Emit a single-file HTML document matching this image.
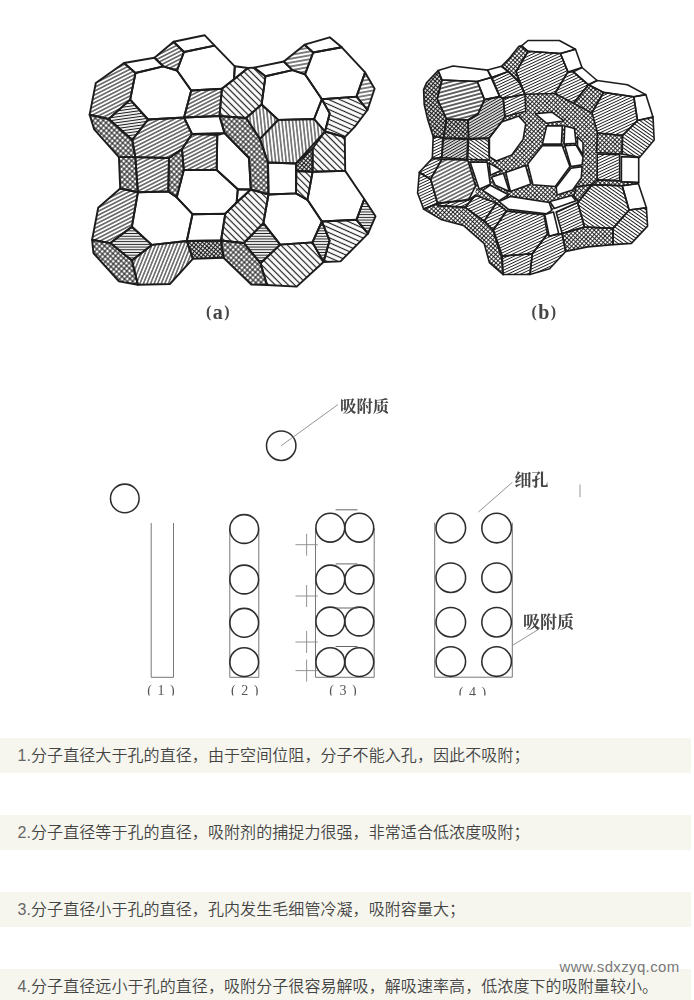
<!DOCTYPE html><html lang="zh"><head><meta charset="utf-8"><title>page</title><style>
html,body{margin:0;padding:0;background:#fff}
body{width:694px;height:1000px;position:relative;overflow:hidden;font-family:"Liberation Sans","Noto Sans CJK SC",sans-serif}
.row{position:absolute;left:0;width:691px;height:35px;background:#f6f6ee;color:#444;font-weight:350;font-size:16px;letter-spacing:0.08px;line-height:35px;padding-left:17.5px;box-sizing:border-box;white-space:nowrap}
.n{color:#666}
.wm{position:absolute;left:559.5px;top:957px;font-size:15px;letter-spacing:0.36px;color:#777;line-height:20px;white-space:nowrap}
</style></head><body>
<svg width="694" height="720" viewBox="0 0 694 720" style="position:absolute;left:0;top:0">
<defs><pattern id="pa" width="3.4" height="3.4" patternUnits="userSpaceOnUse" patternTransform="rotate(-27)"><rect width="3.4" height="3.4" fill="#fff"/><line x1="0" y1="1.7" x2="3.4" y2="1.7" stroke="#1c1c1c" stroke-width="1.1"/></pattern><pattern id="pa0" width="2.9" height="2.9" patternUnits="userSpaceOnUse" patternTransform="rotate(-8)"><rect width="2.9" height="2.9" fill="#fff"/><line x1="0" y1="1.45" x2="2.9" y2="1.45" stroke="#1c1c1c" stroke-width="1.1"/></pattern><pattern id="pa3" width="3.3" height="3.3" patternUnits="userSpaceOnUse" patternTransform="rotate(-68)"><rect width="3.3" height="3.3" fill="#fff"/><line x1="0" y1="1.65" x2="3.3" y2="1.65" stroke="#1c1c1c" stroke-width="1.05"/></pattern><pattern id="pb" width="4.6" height="4.6" patternUnits="userSpaceOnUse" patternTransform="rotate(45)"><rect width="4.6" height="4.6" fill="#fff"/><line x1="0" y1="2.3" x2="4.6" y2="2.3" stroke="#1c1c1c" stroke-width="1.2"/></pattern><pattern id="pb2" width="2.9" height="2.9" patternUnits="userSpaceOnUse" patternTransform="rotate(35)"><rect width="2.9" height="2.9" fill="#fff"/><line x1="0" y1="1.45" x2="2.9" y2="1.45" stroke="#1c1c1c" stroke-width="0.98"/></pattern><pattern id="pa2" width="2.7" height="2.7" patternUnits="userSpaceOnUse" patternTransform="rotate(-25)"><rect width="2.7" height="2.7" fill="#fff"/><line x1="0" y1="1.35" x2="2.7" y2="1.35" stroke="#1c1c1c" stroke-width="0.95"/></pattern><pattern id="pa4" width="3.8" height="3.8" patternUnits="userSpaceOnUse" patternTransform="rotate(-15)"><rect width="3.8" height="3.8" fill="#fff"/><line x1="0" y1="1.9" x2="3.8" y2="1.9" stroke="#1c1c1c" stroke-width="1.35"/></pattern><pattern id="pbg" width="4.5" height="4.5" patternUnits="userSpaceOnUse" patternTransform="rotate(24)"><rect width="4.5" height="4.5" fill="#fff"/><line x1="0" y1="2.25" x2="4.5" y2="2.25" stroke="#1c1c1c" stroke-width="1.15"/></pattern><pattern id="pa5" width="3.8" height="3.8" patternUnits="userSpaceOnUse" patternTransform="rotate(-10)"><rect width="3.8" height="3.8" fill="#fff"/><line x1="0" y1="1.9" x2="3.8" y2="1.9" stroke="#1c1c1c" stroke-width="1.1"/></pattern><pattern id="px2" width="3.0" height="3.0" patternUnits="userSpaceOnUse" patternTransform="rotate(42)"><rect width="3.0" height="3.0" fill="#fff"/><line x1="0" y1="1.5" x2="3.0" y2="1.5" stroke="#1c1c1c" stroke-width="0.92"/><line x1="1.5" y1="0" x2="1.5" y2="3.0" stroke="#1c1c1c" stroke-width="0.92"/></pattern><pattern id="pv" width="3.5" height="3.5" patternUnits="userSpaceOnUse" patternTransform="rotate(84)"><rect width="3.5" height="3.5" fill="#fff"/><line x1="0" y1="1.75" x2="3.5" y2="1.75" stroke="#1c1c1c" stroke-width="1.05"/></pattern><pattern id="ph" width="2.7" height="2.7" patternUnits="userSpaceOnUse" patternTransform="rotate(0)"><rect width="2.7" height="2.7" fill="#fff"/><line x1="0" y1="1.35" x2="2.7" y2="1.35" stroke="#1c1c1c" stroke-width="1.05"/></pattern><pattern id="pd" width="2.5" height="2.5" patternUnits="userSpaceOnUse" patternTransform="rotate(-30)"><rect width="2.5" height="2.5" fill="#fff"/><line x1="0" y1="1.25" x2="2.5" y2="1.25" stroke="#1c1c1c" stroke-width="1.15"/></pattern><pattern id="px" width="3.7" height="3.7" patternUnits="userSpaceOnUse" patternTransform="rotate(42)"><rect width="3.7" height="3.7" fill="#fff"/><line x1="0" y1="1.85" x2="3.7" y2="1.85" stroke="#1c1c1c" stroke-width="1.05"/><line x1="1.85" y1="0" x2="1.85" y2="3.7" stroke="#1c1c1c" stroke-width="1.05"/></pattern><pattern id="pxd" width="3.0" height="3.0" patternUnits="userSpaceOnUse" patternTransform="rotate(40)"><rect width="3.0" height="3.0" fill="#fff"/><line x1="0" y1="1.5" x2="3.0" y2="1.5" stroke="#1c1c1c" stroke-width="1.15"/><line x1="1.5" y1="0" x2="1.5" y2="3.0" stroke="#1c1c1c" stroke-width="1.15"/></pattern><filter id="bl" x="-5%" y="-5%" width="110%" height="110%"><feGaussianBlur stdDeviation="0.65"/></filter><filter id="bl2" x="-5%" y="-5%" width="110%" height="110%"><feGaussianBlur stdDeviation="0.45"/></filter></defs>
<g filter="url(#bl)">
<polygon points="124.0,63.0 154.5,57.7 163.2,66.3 135.5,73.0" fill="#fff"/>
<polygon points="173.5,41.8 204.6,35.2 214.6,45.6 184.0,52.0" fill="#fff"/>
<polygon points="173.5,41.8 184.0,52.0 177.0,70.5 163.2,66.3 154.5,57.7" fill="url(#pa)"/>
<polygon points="184.0,52.0 214.6,45.6 234.8,66.3 234.0,79.3 221.9,88.8 191.2,90.5 177.0,70.5" fill="#fff"/>
<polygon points="135.5,73.0 163.2,66.3 177.0,70.5 191.2,90.5 184.0,117.5 148.0,119.5 130.2,99.6" fill="#fff"/>
<polygon points="124.0,63.0 135.5,73.0 130.2,99.6 108.7,119.0 89.6,114.6 95.8,83.0" fill="url(#pa)"/>
<polygon points="130.2,99.6 148.0,119.5 132.3,140.0 108.7,119.0" fill="url(#pa0)"/>
<polygon points="191.2,90.5 221.9,88.8 219.5,116.0 184.0,117.5" fill="url(#pa)"/>
<polygon points="184.0,117.5 219.5,116.0 224.5,133.0 192.0,134.0" fill="#fff"/>
<polygon points="148.0,119.5 184.0,117.5 192.0,134.0 182.0,149.0 169.0,158.0 135.3,157.1 132.3,140.0" fill="url(#pa)"/>
<polygon points="192.0,134.0 217.3,135.0 216.7,170.0 183.8,170.0 182.0,149.0" fill="url(#pa)"/>
<polygon points="169.0,158.0 182.0,149.0 183.8,170.0 176.7,197.3 168.3,191.5" fill="url(#px)"/>
<polygon points="89.6,114.6 108.7,119.0 132.3,140.0 135.3,157.1 118.9,157.1 94.2,129.4" fill="url(#px)"/>
<polygon points="118.9,157.1 135.3,157.1 137.9,192.3 120.2,188.5" fill="url(#px)"/>
<polygon points="135.3,157.1 169.0,158.0 168.3,191.5 137.9,192.3" fill="url(#pa)"/>
<polygon points="120.2,188.5 137.9,192.3 131.9,226.7 110.3,243.1 92.1,239.8 98.2,207.7" fill="url(#pa)"/>
<polygon points="137.9,192.3 168.3,191.5 176.7,197.3 192.5,214.2 186.8,241.0 151.8,244.9 131.9,226.7" fill="#fff"/>
<polygon points="183.8,170.0 216.7,170.0 237.8,189.3 236.6,202.5 225.3,213.7 192.5,214.2 176.7,197.3" fill="#fff"/>
<polygon points="131.9,226.7 151.8,244.9 131.9,260.5 110.3,243.1" fill="url(#ph)"/>
<polygon points="92.1,239.8 110.3,243.1 131.9,260.5 137.9,284.8 118.9,281.4 93.4,253.0" fill="url(#px)"/>
<polygon points="151.8,244.9 186.8,241.0 192.8,258.8 169.9,284.0 137.9,284.8 131.9,260.5" fill="url(#pa3)"/>
<polygon points="192.5,214.2 225.3,213.7 221.0,240.5 186.8,241.0" fill="#fff"/>
<polygon points="186.8,241.0 221.0,240.5 223.6,257.7 192.8,258.8" fill="url(#pxd)"/>
<polygon points="217.3,135.0 224.5,133.0 249.0,158.0 250.8,189.5 237.8,189.3 216.7,170.0" fill="#fff"/>
<polygon points="237.8,189.3 250.8,189.5 236.6,202.5" fill="#fff"/>
<polygon points="219.5,116.0 246.1,118.0 259.9,138.9 268.0,162.5 268.5,194.5 250.8,189.5 249.0,158.0 224.5,133.0" fill="url(#px)"/>
<polygon points="221.9,88.8 234.0,79.3 248.0,68.0 254.0,67.6 265.5,76.2 261.6,104.5 246.1,118.0 219.5,116.0" fill="url(#pb)"/>
<polygon points="234.8,66.3 248.0,68.0 234.0,79.3" fill="#fff"/>
<polygon points="261.6,104.5 278.3,119.9 259.9,138.9 246.1,118.0" fill="url(#pv)"/>
<polygon points="278.3,119.9 314.1,119.0 325.0,131.5 296.0,163.5 268.0,162.5 259.9,138.9" fill="url(#pv)"/>
<polygon points="268.0,162.5 296.0,163.5 296.0,193.4 268.5,194.5" fill="#fff"/>
<polygon points="296.0,163.5 312.6,148.5 312.6,171.8 296.5,171.0" fill="url(#pxd)"/>
<polygon points="296.5,171.0 312.6,171.8 307.4,199.8 296.0,193.4" fill="url(#pb)"/>
<polygon points="254.0,67.6 283.8,61.5 292.5,70.1 265.5,76.2" fill="#fff"/>
<polygon points="283.8,61.5 304.6,44.7 313.2,52.5 305.0,74.3 292.5,70.1" fill="url(#pa5)"/>
<polygon points="304.6,44.7 329.7,37.3 341.8,47.3 313.2,52.5" fill="#fff"/>
<polygon points="313.2,52.5 341.8,47.3 365.1,72.4 356.5,96.6 321.9,99.2 305.0,74.3" fill="#fff"/>
<polygon points="365.1,72.4 374.6,88.8 367.5,110.0 356.5,96.6" fill="url(#pa5)"/>
<polygon points="265.5,76.2 292.5,70.1 305.0,74.3 321.9,99.2 314.1,119.0 278.3,119.9 261.6,104.5" fill="#fff"/>
<polygon points="321.9,99.2 329.7,113.4 325.0,131.5 314.1,119.0" fill="#fff"/>
<polygon points="321.9,99.2 356.5,96.6 367.5,110.0 354.7,126.8 344.8,137.2 325.0,131.5 329.7,113.4" fill="url(#pbg)"/>
<polygon points="325.0,131.5 344.8,137.2 345.2,170.9 312.6,171.8 312.6,148.5" fill="url(#pb)"/>
<polygon points="312.6,171.8 345.2,170.9 364.2,199.0 356.5,219.8 321.9,221.5 307.4,199.8" fill="#fff"/>
<polygon points="364.2,199.0 375.5,216.3 368.0,233.6 356.5,219.8" fill="url(#ph)"/>
<polygon points="321.9,221.5 356.5,219.8 368.0,233.6 340.5,261.4 323.5,262.0 329.6,240.6" fill="url(#pbg)"/>
<polygon points="321.9,221.5 329.6,240.6 323.5,262.0 312.4,242.4" fill="url(#ph)"/>
<polygon points="268.5,194.5 296.0,193.4 307.4,199.8 321.9,221.5 312.4,242.4 280.2,244.6 263.4,223.2" fill="#fff"/>
<polygon points="250.8,189.5 268.5,194.5 263.4,223.2 243.8,243.0 221.0,240.5 225.3,213.7 236.6,202.5" fill="url(#pb)"/>
<polygon points="263.4,223.2 280.2,244.6 260.5,263.2 243.8,243.0" fill="url(#ph)"/>
<polygon points="221.0,240.5 243.8,243.0 260.5,263.2 267.0,285.0 251.3,284.5 223.6,257.7" fill="url(#px)"/>
<polygon points="280.2,244.6 312.4,242.4 323.5,262.0 296.7,286.6 267.0,285.0 260.5,263.2" fill="url(#pb)"/>
<polygon points="124.0,63.0 154.5,57.7 163.2,66.3 135.5,73.0" fill="none" stroke="#1c1c1c" stroke-width="1.9" stroke-linejoin="round"/>
<polygon points="173.5,41.8 204.6,35.2 214.6,45.6 184.0,52.0" fill="none" stroke="#1c1c1c" stroke-width="1.9" stroke-linejoin="round"/>
<polygon points="173.5,41.8 184.0,52.0 177.0,70.5 163.2,66.3 154.5,57.7" fill="none" stroke="#1c1c1c" stroke-width="1.9" stroke-linejoin="round"/>
<polygon points="184.0,52.0 214.6,45.6 234.8,66.3 234.0,79.3 221.9,88.8 191.2,90.5 177.0,70.5" fill="none" stroke="#1c1c1c" stroke-width="1.9" stroke-linejoin="round"/>
<polygon points="135.5,73.0 163.2,66.3 177.0,70.5 191.2,90.5 184.0,117.5 148.0,119.5 130.2,99.6" fill="none" stroke="#1c1c1c" stroke-width="1.9" stroke-linejoin="round"/>
<polygon points="124.0,63.0 135.5,73.0 130.2,99.6 108.7,119.0 89.6,114.6 95.8,83.0" fill="none" stroke="#1c1c1c" stroke-width="1.9" stroke-linejoin="round"/>
<polygon points="130.2,99.6 148.0,119.5 132.3,140.0 108.7,119.0" fill="none" stroke="#1c1c1c" stroke-width="1.9" stroke-linejoin="round"/>
<polygon points="191.2,90.5 221.9,88.8 219.5,116.0 184.0,117.5" fill="none" stroke="#1c1c1c" stroke-width="1.9" stroke-linejoin="round"/>
<polygon points="184.0,117.5 219.5,116.0 224.5,133.0 192.0,134.0" fill="none" stroke="#1c1c1c" stroke-width="1.9" stroke-linejoin="round"/>
<polygon points="148.0,119.5 184.0,117.5 192.0,134.0 182.0,149.0 169.0,158.0 135.3,157.1 132.3,140.0" fill="none" stroke="#1c1c1c" stroke-width="1.9" stroke-linejoin="round"/>
<polygon points="192.0,134.0 217.3,135.0 216.7,170.0 183.8,170.0 182.0,149.0" fill="none" stroke="#1c1c1c" stroke-width="1.9" stroke-linejoin="round"/>
<polygon points="169.0,158.0 182.0,149.0 183.8,170.0 176.7,197.3 168.3,191.5" fill="none" stroke="#1c1c1c" stroke-width="1.9" stroke-linejoin="round"/>
<polygon points="89.6,114.6 108.7,119.0 132.3,140.0 135.3,157.1 118.9,157.1 94.2,129.4" fill="none" stroke="#1c1c1c" stroke-width="1.9" stroke-linejoin="round"/>
<polygon points="118.9,157.1 135.3,157.1 137.9,192.3 120.2,188.5" fill="none" stroke="#1c1c1c" stroke-width="1.9" stroke-linejoin="round"/>
<polygon points="135.3,157.1 169.0,158.0 168.3,191.5 137.9,192.3" fill="none" stroke="#1c1c1c" stroke-width="1.9" stroke-linejoin="round"/>
<polygon points="120.2,188.5 137.9,192.3 131.9,226.7 110.3,243.1 92.1,239.8 98.2,207.7" fill="none" stroke="#1c1c1c" stroke-width="1.9" stroke-linejoin="round"/>
<polygon points="137.9,192.3 168.3,191.5 176.7,197.3 192.5,214.2 186.8,241.0 151.8,244.9 131.9,226.7" fill="none" stroke="#1c1c1c" stroke-width="1.9" stroke-linejoin="round"/>
<polygon points="183.8,170.0 216.7,170.0 237.8,189.3 236.6,202.5 225.3,213.7 192.5,214.2 176.7,197.3" fill="none" stroke="#1c1c1c" stroke-width="1.9" stroke-linejoin="round"/>
<polygon points="131.9,226.7 151.8,244.9 131.9,260.5 110.3,243.1" fill="none" stroke="#1c1c1c" stroke-width="1.9" stroke-linejoin="round"/>
<polygon points="92.1,239.8 110.3,243.1 131.9,260.5 137.9,284.8 118.9,281.4 93.4,253.0" fill="none" stroke="#1c1c1c" stroke-width="1.9" stroke-linejoin="round"/>
<polygon points="151.8,244.9 186.8,241.0 192.8,258.8 169.9,284.0 137.9,284.8 131.9,260.5" fill="none" stroke="#1c1c1c" stroke-width="1.9" stroke-linejoin="round"/>
<polygon points="192.5,214.2 225.3,213.7 221.0,240.5 186.8,241.0" fill="none" stroke="#1c1c1c" stroke-width="1.9" stroke-linejoin="round"/>
<polygon points="186.8,241.0 221.0,240.5 223.6,257.7 192.8,258.8" fill="none" stroke="#1c1c1c" stroke-width="1.9" stroke-linejoin="round"/>
<polygon points="217.3,135.0 224.5,133.0 249.0,158.0 250.8,189.5 237.8,189.3 216.7,170.0" fill="none" stroke="#1c1c1c" stroke-width="1.9" stroke-linejoin="round"/>
<polygon points="237.8,189.3 250.8,189.5 236.6,202.5" fill="none" stroke="#1c1c1c" stroke-width="1.9" stroke-linejoin="round"/>
<polygon points="219.5,116.0 246.1,118.0 259.9,138.9 268.0,162.5 268.5,194.5 250.8,189.5 249.0,158.0 224.5,133.0" fill="none" stroke="#1c1c1c" stroke-width="1.9" stroke-linejoin="round"/>
<polygon points="221.9,88.8 234.0,79.3 248.0,68.0 254.0,67.6 265.5,76.2 261.6,104.5 246.1,118.0 219.5,116.0" fill="none" stroke="#1c1c1c" stroke-width="1.9" stroke-linejoin="round"/>
<polygon points="234.8,66.3 248.0,68.0 234.0,79.3" fill="none" stroke="#1c1c1c" stroke-width="1.9" stroke-linejoin="round"/>
<polygon points="261.6,104.5 278.3,119.9 259.9,138.9 246.1,118.0" fill="none" stroke="#1c1c1c" stroke-width="1.9" stroke-linejoin="round"/>
<polygon points="278.3,119.9 314.1,119.0 325.0,131.5 296.0,163.5 268.0,162.5 259.9,138.9" fill="none" stroke="#1c1c1c" stroke-width="1.9" stroke-linejoin="round"/>
<polygon points="268.0,162.5 296.0,163.5 296.0,193.4 268.5,194.5" fill="none" stroke="#1c1c1c" stroke-width="1.9" stroke-linejoin="round"/>
<polygon points="296.0,163.5 312.6,148.5 312.6,171.8 296.5,171.0" fill="none" stroke="#1c1c1c" stroke-width="1.9" stroke-linejoin="round"/>
<polygon points="296.5,171.0 312.6,171.8 307.4,199.8 296.0,193.4" fill="none" stroke="#1c1c1c" stroke-width="1.9" stroke-linejoin="round"/>
<polygon points="254.0,67.6 283.8,61.5 292.5,70.1 265.5,76.2" fill="none" stroke="#1c1c1c" stroke-width="1.9" stroke-linejoin="round"/>
<polygon points="283.8,61.5 304.6,44.7 313.2,52.5 305.0,74.3 292.5,70.1" fill="none" stroke="#1c1c1c" stroke-width="1.9" stroke-linejoin="round"/>
<polygon points="304.6,44.7 329.7,37.3 341.8,47.3 313.2,52.5" fill="none" stroke="#1c1c1c" stroke-width="1.9" stroke-linejoin="round"/>
<polygon points="313.2,52.5 341.8,47.3 365.1,72.4 356.5,96.6 321.9,99.2 305.0,74.3" fill="none" stroke="#1c1c1c" stroke-width="1.9" stroke-linejoin="round"/>
<polygon points="365.1,72.4 374.6,88.8 367.5,110.0 356.5,96.6" fill="none" stroke="#1c1c1c" stroke-width="1.9" stroke-linejoin="round"/>
<polygon points="265.5,76.2 292.5,70.1 305.0,74.3 321.9,99.2 314.1,119.0 278.3,119.9 261.6,104.5" fill="none" stroke="#1c1c1c" stroke-width="1.9" stroke-linejoin="round"/>
<polygon points="321.9,99.2 329.7,113.4 325.0,131.5 314.1,119.0" fill="none" stroke="#1c1c1c" stroke-width="1.9" stroke-linejoin="round"/>
<polygon points="321.9,99.2 356.5,96.6 367.5,110.0 354.7,126.8 344.8,137.2 325.0,131.5 329.7,113.4" fill="none" stroke="#1c1c1c" stroke-width="1.9" stroke-linejoin="round"/>
<polygon points="325.0,131.5 344.8,137.2 345.2,170.9 312.6,171.8 312.6,148.5" fill="none" stroke="#1c1c1c" stroke-width="1.9" stroke-linejoin="round"/>
<polygon points="312.6,171.8 345.2,170.9 364.2,199.0 356.5,219.8 321.9,221.5 307.4,199.8" fill="none" stroke="#1c1c1c" stroke-width="1.9" stroke-linejoin="round"/>
<polygon points="364.2,199.0 375.5,216.3 368.0,233.6 356.5,219.8" fill="none" stroke="#1c1c1c" stroke-width="1.9" stroke-linejoin="round"/>
<polygon points="321.9,221.5 356.5,219.8 368.0,233.6 340.5,261.4 323.5,262.0 329.6,240.6" fill="none" stroke="#1c1c1c" stroke-width="1.9" stroke-linejoin="round"/>
<polygon points="321.9,221.5 329.6,240.6 323.5,262.0 312.4,242.4" fill="none" stroke="#1c1c1c" stroke-width="1.9" stroke-linejoin="round"/>
<polygon points="268.5,194.5 296.0,193.4 307.4,199.8 321.9,221.5 312.4,242.4 280.2,244.6 263.4,223.2" fill="none" stroke="#1c1c1c" stroke-width="1.9" stroke-linejoin="round"/>
<polygon points="250.8,189.5 268.5,194.5 263.4,223.2 243.8,243.0 221.0,240.5 225.3,213.7 236.6,202.5" fill="none" stroke="#1c1c1c" stroke-width="1.9" stroke-linejoin="round"/>
<polygon points="263.4,223.2 280.2,244.6 260.5,263.2 243.8,243.0" fill="none" stroke="#1c1c1c" stroke-width="1.9" stroke-linejoin="round"/>
<polygon points="221.0,240.5 243.8,243.0 260.5,263.2 267.0,285.0 251.3,284.5 223.6,257.7" fill="none" stroke="#1c1c1c" stroke-width="1.9" stroke-linejoin="round"/>
<polygon points="280.2,244.6 312.4,242.4 323.5,262.0 296.7,286.6 267.0,285.0 260.5,263.2" fill="none" stroke="#1c1c1c" stroke-width="1.9" stroke-linejoin="round"/>
<polygon points="504.9,116.5 525.7,111.3 525.0,94.3 555.0,93.5 573.4,103.2 591.7,112.9 597.5,133.0 596.5,152.5 597.2,180.0 592.2,184.6 576.1,186.9 573.8,196.1 554.0,209.0 546.0,214.0 506.0,211.0 496.3,203.0 475.5,195.2 475.5,186.1 467.7,160.1 489.4,160.1 489.4,137.7 501.5,122.1" fill="url(#px2)"/>
<polygon points="423.6,89.6 426.5,82.7 438.1,70.6 442.0,80.0 437.2,99.0 446.5,119.0 443.5,137.7 433.2,136.8 427.7,119.6 424.2,104.6" fill="url(#pxd)"/>
<polygon points="438.1,70.6 453.0,66.0 487.6,70.1 491.1,77.6 477.3,81.5 442.0,80.0" fill="#fff"/>
<polygon points="487.6,70.1 501.5,66.3 508.4,71.5 492.0,77.6" fill="#fff"/>
<polygon points="477.3,81.5 491.1,77.6 499.7,96.6 484.5,99.6" fill="#fff"/>
<polygon points="442.0,80.0 477.3,81.5 484.5,99.6 478.0,113.8 468.0,120.0 446.5,119.0 437.2,99.0" fill="url(#pa4)"/>
<polygon points="446.5,119.0 468.0,120.0 468.6,138.5 443.5,137.7" fill="url(#pxd)"/>
<polygon points="492.0,77.6 508.4,71.5 518.8,81.9 525.0,94.3 503.2,98.3 499.7,96.6" fill="url(#pa2)"/>
<polygon points="503.2,98.3 525.0,94.3 525.7,111.3 504.9,116.5" fill="url(#pa2)"/>
<polygon points="484.5,99.6 499.7,96.6 503.2,98.3 504.9,116.5 501.5,122.1 489.4,137.7 468.6,138.5 468.0,120.0 478.0,113.8" fill="url(#pd)"/>
<polygon points="501.5,66.3 508.4,59.4 518.8,46.4 521.5,45.9 528.0,51.3 516.1,71.9 518.8,81.9 508.4,71.5" fill="url(#px2)"/>
<polygon points="521.5,45.9 528.0,40.5 559.3,40.5 575.5,49.2 560.4,53.5 528.0,51.3" fill="#fff"/>
<polygon points="560.4,53.5 575.5,49.2 582.0,67.5 567.9,71.9" fill="#fff"/>
<polygon points="528.0,51.3 560.4,53.5 567.9,71.9 555.0,93.5 525.0,94.3 516.1,71.9" fill="url(#pa2)"/>
<polygon points="573.4,71.9 582.0,67.5 597.1,80.5 588.5,84.8" fill="#fff"/>
<polygon points="567.9,71.9 573.4,71.9 588.5,84.8 573.4,103.2 555.0,93.5" fill="url(#pa2)"/>
<polygon points="588.5,84.8 603.6,92.4 591.7,112.9 573.4,103.2" fill="url(#px2)"/>
<polygon points="597.1,80.5 627.4,84.8 645.8,94.6 633.9,96.7 603.6,92.4 588.5,84.8" fill="#fff"/>
<polygon points="633.9,96.7 645.8,94.6 653.0,117.0 637.5,120.5" fill="#fff"/>
<polygon points="603.5,92.5 633.7,96.8 637.5,120.5 622.5,135.5 597.5,133.0 592.0,112.7" fill="url(#pa2)"/>
<polygon points="637.5,120.5 653.0,117.0 654.2,140.1 639.5,157.4 622.3,154.0 622.5,135.5" fill="url(#pb2)"/>
<polygon points="597.5,133.0 622.5,135.5 621.8,154.0 596.5,152.5" fill="url(#px2)"/>
<polygon points="597.2,154.0 619.7,154.8 619.7,180.8 597.2,179.9" fill="url(#pa2)"/>
<polygon points="621.4,156.6 638.7,157.4 638.7,182.5 621.4,181.7" fill="#fff"/>
<polygon points="597.2,179.9 619.7,180.8 621.4,181.7 638.7,182.5 638.3,183.5 622.2,185.8 592.2,184.6" fill="url(#px2)"/>
<polygon points="592.2,184.6 622.2,185.8 629.1,210.0 613.0,228.4 584.5,227.0 577.7,202.5" fill="url(#pb2)"/>
<polygon points="622.2,185.8 638.3,183.5 646.4,207.7 629.1,210.0" fill="#fff"/>
<polygon points="629.1,210.0 646.4,207.7 647.6,226.1 631.4,243.4 613.0,244.6 613.0,228.4" fill="url(#pb2)"/>
<polygon points="562.1,233.5 584.5,227.0 613.0,228.4 613.0,244.6 587.6,246.9 565.7,251.5" fill="url(#px2)"/>
<polygon points="576.1,186.9 592.2,184.6 578.4,201.9 573.8,196.1" fill="url(#px2)"/>
<polygon points="544.8,214.6 553.5,212.0 558.7,233.6 549.2,236.2" fill="#fff"/>
<polygon points="556.1,212.0 577.7,202.5 584.5,227.0 562.1,233.5" fill="url(#pa2)"/>
<polygon points="505.9,211.1 544.0,214.6 547.4,234.0 532.3,253.8 502.3,256.1 493.5,230.0" fill="url(#pa2)"/>
<polygon points="547.4,234.0 549.2,236.2 562.1,233.5 565.7,251.5 549.6,268.8 530.0,274.5 532.3,253.8" fill="url(#pa2)"/>
<polygon points="502.3,256.1 532.3,253.8 530.0,274.5 503.0,274.5" fill="url(#pa2)"/>
<polygon points="441.8,159.3 467.7,160.1 475.5,186.1 468.6,199.9 437.5,203.4 430.6,179.2" fill="url(#pa)"/>
<polygon points="432.3,158.4 441.8,159.3 430.6,179.2 419.3,172.3" fill="url(#pa2)"/>
<polygon points="419.3,172.3 430.6,179.2 437.5,203.4 423.6,209.0 417.6,193.0" fill="url(#pa2)"/>
<polygon points="423.6,209.0 437.5,203.4 438.3,205.6 465.1,207.3 484.2,221.1 492.8,229.8 501.5,257.4 503.2,274.7 489.4,262.6 484.2,243.6 463.4,225.4 440.9,219.4" fill="url(#px2)"/>
<polygon points="437.5,203.4 468.6,199.9 475.5,195.2 465.1,207.3 438.3,205.6" fill="url(#pa2)"/>
<polygon points="475.5,195.2 496.3,203.0 484.2,221.1 465.1,207.3" fill="url(#pa2)"/>
<polygon points="496.3,203.0 506.9,211.1 493.0,230.0 484.2,221.1" fill="url(#pa2)"/>
<polygon points="433.2,136.8 442.7,137.7 441.8,157.6 432.3,158.4" fill="url(#pa2)"/>
<polygon points="443.5,138.5 467.7,139.4 466.9,159.3 441.8,157.6" fill="url(#pd)"/>
<polygon points="468.6,139.4 488.5,138.5 489.4,160.1 467.7,159.3" fill="url(#pb2)"/>
<polygon points="489.4,137.7 501.5,122.1 518.8,116.1 525.7,123.8 523.1,139.4 511.8,155.0 496.3,161.0 489.4,156.7" fill="#fff"/>
<polygon points="535.4,113.8 551.9,112.1 564.0,120.8 546.7,123.3" fill="#fff"/>
<polygon points="546.7,125.9 562.3,125.9 561.4,144.1 542.4,144.1" fill="#fff"/>
<polygon points="564.8,125.9 574.4,128.5 576.1,143.2 564.0,144.1" fill="#fff"/>
<polygon points="577.5,137.0 583.0,142.5 583.0,155.0 577.5,146.0" fill="#fff"/>
<polygon points="542.4,145.8 562.3,145.8 570.0,166.6 555.3,186.5 532.9,184.7 527.7,164.0" fill="#fff"/>
<polygon points="564.8,145.8 576.1,145.0 583.0,157.1 582.1,164.8 570.9,166.6" fill="#fff"/>
<polygon points="570.9,168.3 582.1,166.6 581.3,177.8 572.6,189.9 557.1,195.1 556.2,187.3" fill="#fff"/>
<polygon points="505.8,172.4 525.5,165.4 530.8,184.0 510.4,191.5" fill="#fff"/>
<polygon points="470.1,162.1 487.2,162.1 490.3,184.3 479.2,189.3" fill="#fff"/>
<polygon points="489.3,163.1 501.4,170.2 490.3,175.2" fill="#fff"/>
<polygon points="491.3,177.2 503.4,173.2 509.4,191.4 495.3,185.3" fill="#fff"/>
<polygon points="482.6,190.4 490.4,185.2 508.5,194.7 499.0,200.8" fill="#fff"/>
<polygon points="499.0,201.6 510.3,196.4 549.2,202.5 551.8,210.3 546.6,213.7 508.5,209.4" fill="#fff"/>
<polygon points="550.0,201.6 571.6,195.6 576.0,200.8 554.4,208.5" fill="#fff"/>
<polygon points="423.6,89.6 426.5,82.7 438.1,70.6 442.0,80.0 437.2,99.0 446.5,119.0 443.5,137.7 433.2,136.8 427.7,119.6 424.2,104.6" fill="none" stroke="#1c1c1c" stroke-width="1.6" stroke-linejoin="round"/>
<polygon points="438.1,70.6 453.0,66.0 487.6,70.1 491.1,77.6 477.3,81.5 442.0,80.0" fill="none" stroke="#1c1c1c" stroke-width="1.6" stroke-linejoin="round"/>
<polygon points="487.6,70.1 501.5,66.3 508.4,71.5 492.0,77.6" fill="none" stroke="#1c1c1c" stroke-width="1.6" stroke-linejoin="round"/>
<polygon points="477.3,81.5 491.1,77.6 499.7,96.6 484.5,99.6" fill="none" stroke="#1c1c1c" stroke-width="1.6" stroke-linejoin="round"/>
<polygon points="442.0,80.0 477.3,81.5 484.5,99.6 478.0,113.8 468.0,120.0 446.5,119.0 437.2,99.0" fill="none" stroke="#1c1c1c" stroke-width="1.6" stroke-linejoin="round"/>
<polygon points="446.5,119.0 468.0,120.0 468.6,138.5 443.5,137.7" fill="none" stroke="#1c1c1c" stroke-width="1.6" stroke-linejoin="round"/>
<polygon points="492.0,77.6 508.4,71.5 518.8,81.9 525.0,94.3 503.2,98.3 499.7,96.6" fill="none" stroke="#1c1c1c" stroke-width="1.6" stroke-linejoin="round"/>
<polygon points="503.2,98.3 525.0,94.3 525.7,111.3 504.9,116.5" fill="none" stroke="#1c1c1c" stroke-width="1.6" stroke-linejoin="round"/>
<polygon points="484.5,99.6 499.7,96.6 503.2,98.3 504.9,116.5 501.5,122.1 489.4,137.7 468.6,138.5 468.0,120.0 478.0,113.8" fill="none" stroke="#1c1c1c" stroke-width="1.6" stroke-linejoin="round"/>
<polygon points="501.5,66.3 508.4,59.4 518.8,46.4 521.5,45.9 528.0,51.3 516.1,71.9 518.8,81.9 508.4,71.5" fill="none" stroke="#1c1c1c" stroke-width="1.6" stroke-linejoin="round"/>
<polygon points="521.5,45.9 528.0,40.5 559.3,40.5 575.5,49.2 560.4,53.5 528.0,51.3" fill="none" stroke="#1c1c1c" stroke-width="1.6" stroke-linejoin="round"/>
<polygon points="560.4,53.5 575.5,49.2 582.0,67.5 567.9,71.9" fill="none" stroke="#1c1c1c" stroke-width="1.6" stroke-linejoin="round"/>
<polygon points="528.0,51.3 560.4,53.5 567.9,71.9 555.0,93.5 525.0,94.3 516.1,71.9" fill="none" stroke="#1c1c1c" stroke-width="1.6" stroke-linejoin="round"/>
<polygon points="573.4,71.9 582.0,67.5 597.1,80.5 588.5,84.8" fill="none" stroke="#1c1c1c" stroke-width="1.6" stroke-linejoin="round"/>
<polygon points="567.9,71.9 573.4,71.9 588.5,84.8 573.4,103.2 555.0,93.5" fill="none" stroke="#1c1c1c" stroke-width="1.6" stroke-linejoin="round"/>
<polygon points="588.5,84.8 603.6,92.4 591.7,112.9 573.4,103.2" fill="none" stroke="#1c1c1c" stroke-width="1.6" stroke-linejoin="round"/>
<polygon points="597.1,80.5 627.4,84.8 645.8,94.6 633.9,96.7 603.6,92.4 588.5,84.8" fill="none" stroke="#1c1c1c" stroke-width="1.6" stroke-linejoin="round"/>
<polygon points="633.9,96.7 645.8,94.6 653.0,117.0 637.5,120.5" fill="none" stroke="#1c1c1c" stroke-width="1.6" stroke-linejoin="round"/>
<polygon points="603.5,92.5 633.7,96.8 637.5,120.5 622.5,135.5 597.5,133.0 592.0,112.7" fill="none" stroke="#1c1c1c" stroke-width="1.6" stroke-linejoin="round"/>
<polygon points="637.5,120.5 653.0,117.0 654.2,140.1 639.5,157.4 622.3,154.0 622.5,135.5" fill="none" stroke="#1c1c1c" stroke-width="1.6" stroke-linejoin="round"/>
<polygon points="597.5,133.0 622.5,135.5 621.8,154.0 596.5,152.5" fill="none" stroke="#1c1c1c" stroke-width="1.6" stroke-linejoin="round"/>
<polygon points="597.2,154.0 619.7,154.8 619.7,180.8 597.2,179.9" fill="none" stroke="#1c1c1c" stroke-width="1.6" stroke-linejoin="round"/>
<polygon points="621.4,156.6 638.7,157.4 638.7,182.5 621.4,181.7" fill="none" stroke="#1c1c1c" stroke-width="1.6" stroke-linejoin="round"/>
<polygon points="597.2,179.9 619.7,180.8 621.4,181.7 638.7,182.5 638.3,183.5 622.2,185.8 592.2,184.6" fill="none" stroke="#1c1c1c" stroke-width="1.6" stroke-linejoin="round"/>
<polygon points="592.2,184.6 622.2,185.8 629.1,210.0 613.0,228.4 584.5,227.0 577.7,202.5" fill="none" stroke="#1c1c1c" stroke-width="1.6" stroke-linejoin="round"/>
<polygon points="622.2,185.8 638.3,183.5 646.4,207.7 629.1,210.0" fill="none" stroke="#1c1c1c" stroke-width="1.6" stroke-linejoin="round"/>
<polygon points="629.1,210.0 646.4,207.7 647.6,226.1 631.4,243.4 613.0,244.6 613.0,228.4" fill="none" stroke="#1c1c1c" stroke-width="1.6" stroke-linejoin="round"/>
<polygon points="562.1,233.5 584.5,227.0 613.0,228.4 613.0,244.6 587.6,246.9 565.7,251.5" fill="none" stroke="#1c1c1c" stroke-width="1.6" stroke-linejoin="round"/>
<polygon points="576.1,186.9 592.2,184.6 578.4,201.9 573.8,196.1" fill="none" stroke="#1c1c1c" stroke-width="1.6" stroke-linejoin="round"/>
<polygon points="544.8,214.6 553.5,212.0 558.7,233.6 549.2,236.2" fill="none" stroke="#1c1c1c" stroke-width="1.6" stroke-linejoin="round"/>
<polygon points="556.1,212.0 577.7,202.5 584.5,227.0 562.1,233.5" fill="none" stroke="#1c1c1c" stroke-width="1.6" stroke-linejoin="round"/>
<polygon points="505.9,211.1 544.0,214.6 547.4,234.0 532.3,253.8 502.3,256.1 493.5,230.0" fill="none" stroke="#1c1c1c" stroke-width="1.6" stroke-linejoin="round"/>
<polygon points="547.4,234.0 549.2,236.2 562.1,233.5 565.7,251.5 549.6,268.8 530.0,274.5 532.3,253.8" fill="none" stroke="#1c1c1c" stroke-width="1.6" stroke-linejoin="round"/>
<polygon points="502.3,256.1 532.3,253.8 530.0,274.5 503.0,274.5" fill="none" stroke="#1c1c1c" stroke-width="1.6" stroke-linejoin="round"/>
<polygon points="441.8,159.3 467.7,160.1 475.5,186.1 468.6,199.9 437.5,203.4 430.6,179.2" fill="none" stroke="#1c1c1c" stroke-width="1.6" stroke-linejoin="round"/>
<polygon points="432.3,158.4 441.8,159.3 430.6,179.2 419.3,172.3" fill="none" stroke="#1c1c1c" stroke-width="1.6" stroke-linejoin="round"/>
<polygon points="419.3,172.3 430.6,179.2 437.5,203.4 423.6,209.0 417.6,193.0" fill="none" stroke="#1c1c1c" stroke-width="1.6" stroke-linejoin="round"/>
<polygon points="423.6,209.0 437.5,203.4 438.3,205.6 465.1,207.3 484.2,221.1 492.8,229.8 501.5,257.4 503.2,274.7 489.4,262.6 484.2,243.6 463.4,225.4 440.9,219.4" fill="none" stroke="#1c1c1c" stroke-width="1.6" stroke-linejoin="round"/>
<polygon points="437.5,203.4 468.6,199.9 475.5,195.2 465.1,207.3 438.3,205.6" fill="none" stroke="#1c1c1c" stroke-width="1.6" stroke-linejoin="round"/>
<polygon points="475.5,195.2 496.3,203.0 484.2,221.1 465.1,207.3" fill="none" stroke="#1c1c1c" stroke-width="1.6" stroke-linejoin="round"/>
<polygon points="496.3,203.0 506.9,211.1 493.0,230.0 484.2,221.1" fill="none" stroke="#1c1c1c" stroke-width="1.6" stroke-linejoin="round"/>
<polygon points="433.2,136.8 442.7,137.7 441.8,157.6 432.3,158.4" fill="none" stroke="#1c1c1c" stroke-width="1.6" stroke-linejoin="round"/>
<polygon points="443.5,138.5 467.7,139.4 466.9,159.3 441.8,157.6" fill="none" stroke="#1c1c1c" stroke-width="1.6" stroke-linejoin="round"/>
<polygon points="468.6,139.4 488.5,138.5 489.4,160.1 467.7,159.3" fill="none" stroke="#1c1c1c" stroke-width="1.6" stroke-linejoin="round"/>
<polygon points="489.4,137.7 501.5,122.1 518.8,116.1 525.7,123.8 523.1,139.4 511.8,155.0 496.3,161.0 489.4,156.7" fill="none" stroke="#1c1c1c" stroke-width="1.6" stroke-linejoin="round"/>
<polygon points="535.4,113.8 551.9,112.1 564.0,120.8 546.7,123.3" fill="none" stroke="#1c1c1c" stroke-width="1.6" stroke-linejoin="round"/>
<polygon points="546.7,125.9 562.3,125.9 561.4,144.1 542.4,144.1" fill="none" stroke="#1c1c1c" stroke-width="1.6" stroke-linejoin="round"/>
<polygon points="564.8,125.9 574.4,128.5 576.1,143.2 564.0,144.1" fill="none" stroke="#1c1c1c" stroke-width="1.6" stroke-linejoin="round"/>
<polygon points="577.5,137.0 583.0,142.5 583.0,155.0 577.5,146.0" fill="none" stroke="#1c1c1c" stroke-width="1.6" stroke-linejoin="round"/>
<polygon points="542.4,145.8 562.3,145.8 570.0,166.6 555.3,186.5 532.9,184.7 527.7,164.0" fill="none" stroke="#1c1c1c" stroke-width="1.6" stroke-linejoin="round"/>
<polygon points="564.8,145.8 576.1,145.0 583.0,157.1 582.1,164.8 570.9,166.6" fill="none" stroke="#1c1c1c" stroke-width="1.6" stroke-linejoin="round"/>
<polygon points="570.9,168.3 582.1,166.6 581.3,177.8 572.6,189.9 557.1,195.1 556.2,187.3" fill="none" stroke="#1c1c1c" stroke-width="1.6" stroke-linejoin="round"/>
<polygon points="505.8,172.4 525.5,165.4 530.8,184.0 510.4,191.5" fill="none" stroke="#1c1c1c" stroke-width="1.6" stroke-linejoin="round"/>
<polygon points="470.1,162.1 487.2,162.1 490.3,184.3 479.2,189.3" fill="none" stroke="#1c1c1c" stroke-width="1.6" stroke-linejoin="round"/>
<polygon points="489.3,163.1 501.4,170.2 490.3,175.2" fill="none" stroke="#1c1c1c" stroke-width="1.6" stroke-linejoin="round"/>
<polygon points="491.3,177.2 503.4,173.2 509.4,191.4 495.3,185.3" fill="none" stroke="#1c1c1c" stroke-width="1.6" stroke-linejoin="round"/>
<polygon points="482.6,190.4 490.4,185.2 508.5,194.7 499.0,200.8" fill="none" stroke="#1c1c1c" stroke-width="1.6" stroke-linejoin="round"/>
<polygon points="499.0,201.6 510.3,196.4 549.2,202.5 551.8,210.3 546.6,213.7 508.5,209.4" fill="none" stroke="#1c1c1c" stroke-width="1.6" stroke-linejoin="round"/>
<polygon points="550.0,201.6 571.6,195.6 576.0,200.8 554.4,208.5" fill="none" stroke="#1c1c1c" stroke-width="1.6" stroke-linejoin="round"/>
</g>
<g filter="url(#bl)" font-family="'Liberation Serif', serif" fill="#444">
<text x="206" y="316.8" font-size="16" font-weight="bold">(<tspan font-size="20" dy="2" dx="1.5">a</tspan><tspan dy="-2" dx="1.5">)</tspan></text>
<text x="531.4" y="316.8" font-size="16" font-weight="bold">(<tspan font-size="20" dy="2" dx="1.5">b</tspan><tspan dy="-2" dx="1.5">)</tspan></text>
</g>
<g filter="url(#bl2)"><circle cx="281.2" cy="445.7" r="14.7" fill="none" stroke="#2e2e2e" stroke-width="1.55"/>
<circle cx="124.8" cy="498.4" r="14.3" fill="none" stroke="#2e2e2e" stroke-width="1.55"/>
<line x1="281.2" y1="445.7" x2="337.9" y2="404.6" stroke="#888" stroke-width="0.9"/>
<line x1="151.2" y1="523" x2="151.2" y2="677.3" stroke="#777" stroke-width="1"/>
<line x1="173.5" y1="523" x2="173.5" y2="677.3" stroke="#777" stroke-width="1"/>
<line x1="151.2" y1="677.3" x2="173.5" y2="677.3" stroke="#777" stroke-width="1"/>
<line x1="229.8" y1="529" x2="229.8" y2="677.3" stroke="#777" stroke-width="1"/>
<line x1="258.8" y1="529" x2="258.8" y2="677.3" stroke="#777" stroke-width="1"/>
<line x1="229.8" y1="677.3" x2="258.8" y2="677.3" stroke="#777" stroke-width="1"/>
<circle cx="244.2" cy="529" r="14.4" fill="none" stroke="#2e2e2e" stroke-width="1.55"/>
<circle cx="244.2" cy="579.5" r="14.4" fill="none" stroke="#2e2e2e" stroke-width="1.55"/>
<circle cx="244.2" cy="622.8" r="14.4" fill="none" stroke="#2e2e2e" stroke-width="1.55"/>
<circle cx="244.2" cy="662.1" r="14.4" fill="none" stroke="#2e2e2e" stroke-width="1.55"/>
<line x1="315.5" y1="528" x2="315.5" y2="677.3" stroke="#777" stroke-width="1"/>
<line x1="374.2" y1="528" x2="374.2" y2="677.3" stroke="#777" stroke-width="1"/>
<line x1="315.5" y1="677.3" x2="374.2" y2="677.3" stroke="#777" stroke-width="1"/>
<circle cx="330.3" cy="527.7" r="14.4" fill="none" stroke="#2e2e2e" stroke-width="1.55"/>
<circle cx="359.3" cy="527.7" r="14.4" fill="none" stroke="#2e2e2e" stroke-width="1.55"/>
<circle cx="330.3" cy="579.5" r="14.4" fill="none" stroke="#2e2e2e" stroke-width="1.55"/>
<circle cx="359.3" cy="579.5" r="14.4" fill="none" stroke="#2e2e2e" stroke-width="1.55"/>
<circle cx="330.3" cy="621.5" r="14.4" fill="none" stroke="#2e2e2e" stroke-width="1.55"/>
<circle cx="359.3" cy="621.5" r="14.4" fill="none" stroke="#2e2e2e" stroke-width="1.55"/>
<circle cx="330.3" cy="662.1" r="14.4" fill="none" stroke="#2e2e2e" stroke-width="1.55"/>
<circle cx="359.3" cy="662.1" r="14.4" fill="none" stroke="#2e2e2e" stroke-width="1.55"/>
<line x1="335.6" y1="509.8" x2="357.5" y2="509.8" stroke="#666" stroke-width="1"/>
<line x1="335.6" y1="563.9" x2="357.5" y2="563.9" stroke="#666" stroke-width="1"/>
<line x1="335.6" y1="608" x2="357.5" y2="608" stroke="#666" stroke-width="1"/>
<line x1="335.6" y1="646.5" x2="357.5" y2="646.5" stroke="#666" stroke-width="1"/>
<line x1="295.5" y1="544.7" x2="317.8" y2="544.7" stroke="#888" stroke-width="0.9"/>
<line x1="306.6" y1="533.7" x2="306.6" y2="555.7" stroke="#888" stroke-width="0.9"/>
<line x1="295.5" y1="596" x2="317.8" y2="596" stroke="#888" stroke-width="0.9"/>
<line x1="306.6" y1="585" x2="306.6" y2="607" stroke="#888" stroke-width="0.9"/>
<line x1="295.5" y1="642" x2="317.8" y2="642" stroke="#888" stroke-width="0.9"/>
<line x1="306.6" y1="631" x2="306.6" y2="653" stroke="#888" stroke-width="0.9"/>
<line x1="295.5" y1="670.6" x2="317.8" y2="670.6" stroke="#888" stroke-width="0.9"/>
<line x1="306.6" y1="659.6" x2="306.6" y2="681.6" stroke="#888" stroke-width="0.9"/>
<line x1="434.7" y1="522.6" x2="434.7" y2="677.2" stroke="#777" stroke-width="1"/>
<line x1="512.3" y1="522.6" x2="512.3" y2="677.2" stroke="#777" stroke-width="1"/>
<line x1="434.7" y1="677.2" x2="512.3" y2="677.2" stroke="#777" stroke-width="1"/>
<circle cx="450.8" cy="528.1" r="14.8" fill="none" stroke="#2e2e2e" stroke-width="1.55"/>
<circle cx="496.6" cy="528.1" r="14.8" fill="none" stroke="#2e2e2e" stroke-width="1.55"/>
<circle cx="450.8" cy="577.7" r="14.8" fill="none" stroke="#2e2e2e" stroke-width="1.55"/>
<circle cx="496.6" cy="577.7" r="14.8" fill="none" stroke="#2e2e2e" stroke-width="1.55"/>
<circle cx="450.8" cy="622.2" r="14.8" fill="none" stroke="#2e2e2e" stroke-width="1.55"/>
<circle cx="496.6" cy="622.2" r="14.8" fill="none" stroke="#2e2e2e" stroke-width="1.55"/>
<circle cx="450.8" cy="661.6" r="14.8" fill="none" stroke="#2e2e2e" stroke-width="1.55"/>
<circle cx="496.6" cy="661.6" r="14.8" fill="none" stroke="#2e2e2e" stroke-width="1.55"/>
<line x1="512.3" y1="482.4" x2="478.4" y2="512" stroke="#888" stroke-width="0.9"/>
<line x1="539.8" y1="628.5" x2="512.3" y2="645.5" stroke="#888" stroke-width="0.9"/>
<line x1="580" y1="484.5" x2="580" y2="497.2" stroke="#999" stroke-width="1"/></g>
<g filter="url(#bl2)" font-family="'Liberation Serif', 'Noto Serif CJK SC', serif" fill="#444">
<text x="340" y="412" font-size="16.4" font-weight="bold">吸附质</text>
<text x="514.5" y="485.5" font-size="17" font-weight="bold">细孔</text>
<text x="523" y="627.5" font-size="17" font-weight="bold">吸附质</text>
<text x="147.2" y="694.5" font-size="14" letter-spacing="5.6" fill="#555">(1)</text>
<text x="231.0" y="694.5" font-size="14" letter-spacing="5.6" fill="#555">(2)</text>
<text x="329.2" y="694.5" font-size="14" letter-spacing="5.6" fill="#555">(3)</text>
<text x="458.7" y="697" font-size="14" letter-spacing="5.6" fill="#555">(4)</text>
</g>
<rect x="0" y="695.5" width="694" height="30" fill="#fff"/>
</svg>
<div class="row" style="top:738px"><span class="n">1.</span>分子直径大于孔的直径，由于空间位阻，分子不能入孔，因此不吸附；</div>
<div class="row" style="top:815px"><span class="n">2.</span>分子直径等于孔的直径，吸附剂的捕捉力很强，非常适合低浓度吸附；</div>
<div class="row" style="top:892px"><span class="n">3.</span>分子直径小于孔的直径，孔内发生毛细管冷凝，吸附容量大；</div>
<div class="row" style="top:969px"><span class="n">4.</span>分子直径远小于孔的直径，吸附分子很容易解吸，解吸速率高，低浓度下的吸附量较小。</div>
<div class="wm">www.sdxzyq.com</div>
</body></html>
